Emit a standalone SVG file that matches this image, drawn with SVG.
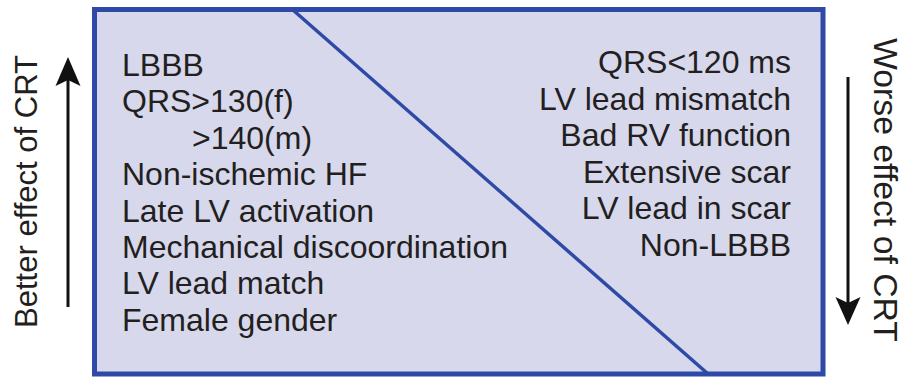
<svg xmlns="http://www.w3.org/2000/svg" width="905" height="378" viewBox="0 0 905 378">
<defs>
<style>
.t{font-family:"Liberation Sans",Arial,Helvetica,sans-serif;font-size:32px;fill:#231f20}
.r{text-anchor:end}
.ax{stroke:#111;stroke-width:3;fill:none}
.ah{fill:#111}
</style>
</defs>
<rect width="905" height="378" fill="#ffffff"/>
<g id="box">
<rect x="94.5" y="9.5" width="728.5" height="364.5" fill="#d7d8ec" stroke="#2f4aa6" stroke-width="5"/>
<line x1="293" y1="10" x2="707" y2="373" stroke="#2f4aa6" stroke-width="3.5"/>
</g>
<g id="left-list">
<text class="t" x="122" y="76">LBBB</text>
<text class="t" x="122" y="112.4">QRS&gt;130(f)</text>
<text class="t" x="192" y="148.8">&gt;140(m)</text>
<text class="t" x="122" y="185">Non-ischemic HF</text>
<text class="t" x="122" y="221.5">Late LV activation</text>
<text class="t" x="122" y="258">Mechanical discoordination</text>
<text class="t" x="122" y="294.4">LV lead match</text>
<text class="t" x="122" y="330.8">Female gender</text>
</g>
<g id="right-list">
<text class="t r" x="791" y="73">QRS&lt;120 ms</text>
<text class="t r" x="791" y="109.6">LV lead mismatch</text>
<text class="t r" x="791" y="146.2">Bad RV function</text>
<text class="t r" x="791" y="182.8">Extensive scar</text>
<text class="t r" x="791" y="219.4">LV lead in scar</text>
<text class="t r" x="791" y="256">Non-LBBB</text>
</g>
<g id="connectors">
<g id="better-arrow">
<line class="ax" x1="68" y1="307" x2="68" y2="80"/>
<polygon class="ah" points="68,57 55.5,86 68,80 80.5,86"/>
</g>
<g id="worse-arrow">
<line class="ax" x1="848" y1="77" x2="848" y2="303"/>
<polygon class="ah" points="848,325 835.5,297 848,303 860.5,297"/>
</g>
</g>
<g id="better-label">
<text class="t" transform="translate(37,328) rotate(-90)" textLength="273" lengthAdjust="spacingAndGlyphs">Better effect of CRT</text>
</g>
<g id="worse-label">
<text class="t" style="font-size:33px" transform="translate(874,38) rotate(90)" textLength="304" lengthAdjust="spacingAndGlyphs">Worse effect of CRT</text>
</g>
</svg>
